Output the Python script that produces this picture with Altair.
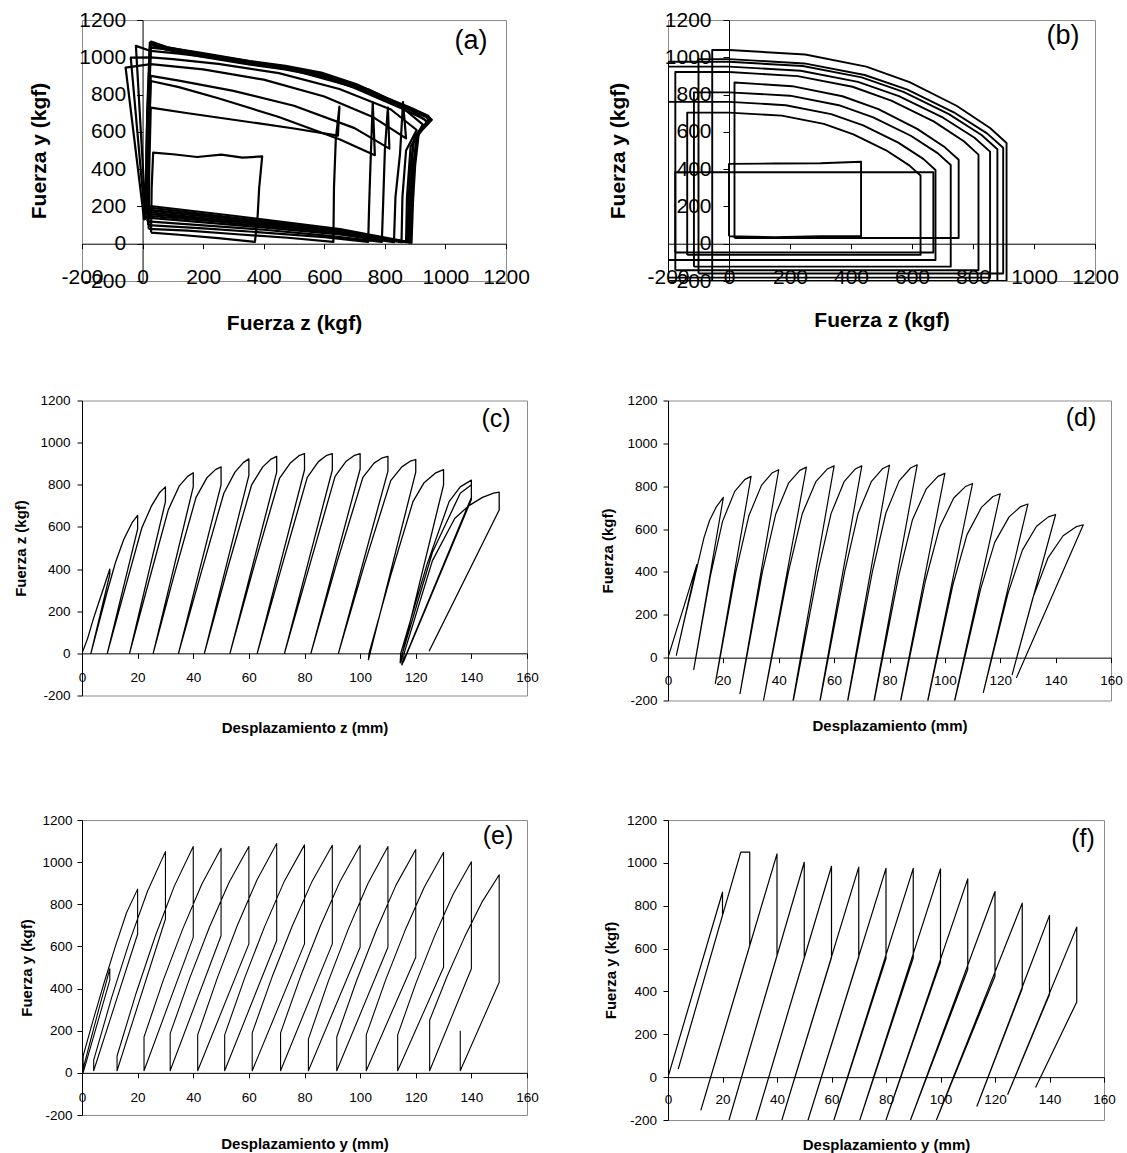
import altair as alt
import pandas as pd

FONT = "Liberation Sans"

FORCE_TICKS = [-200, 0, 200, 400, 600, 800, 1000, 1200]
DISP_TICKS = [0, 20, 40, 60, 80, 100, 120, 140, 160]

# ---------------- (a) Fuerza y vs Fuerza z : closed loops ----------------
A_FZ = [
    [28, 120, 250, 371, 380, 385, 395, 330, 260, 180, 100, 35, 30, 28],
    [20, 150, 300, 480, 630, 632, 638, 650, 645, 500, 300, 150, 27, 22, 20],
    [18, 200, 400, 600, 745, 748, 752, 760, 767, 650, 450, 250, 120, 27, 20, 18],
    [16, 200, 400, 600, 790, 795, 800, 810, 815, 700, 500, 300, 120, 27, 20, 16],
    [15, 250, 450, 650, 830, 835, 850, 860, 870, 760, 600, 400, 200, 27, -56, 5, 15],
    [14, 250, 450, 650, 855, 858, 870, 905, 820, 650, 450, 250, 100, 27, -39, 8, 14],
    [13, 250, 450, 650, 870, 873, 885, 925, 850, 700, 500, 300, 120, 27, -22, 10, 13],
    [12, 250, 450, 650, 880, 884, 893, 940, 880, 750, 550, 350, 150, 27, 15, 12],
    [12, 300, 652, 884, 890, 896, 908, 950, 943, 884, 802, 707, 590, 472, 354, 189, 83, 24, 15, 12],
    [15, 300, 652, 888, 893, 900, 912, 955, 945, 885, 800, 700, 590, 470, 350, 190, 80, 28, 18, 15],
    [10, 300, 652, 880, 885, 893, 905, 945, 938, 880, 800, 700, 590, 470, 350, 190, 80, 25, 14, 10],
    [12, 300, 652, 875, 878, 885, 898, 938, 930, 875, 795, 700, 590, 470, 350, 190, 80, 25, 14, 12],
]
A_FY = [
    [60, 48, 30, 10, 150, 300, 468, 462, 478, 465, 480, 489, 300, 60],
    [80, 70, 52, 32, 10, 300, 560, 735, 580, 618, 665, 700, 730, 400, 80],
    [100, 82, 60, 35, 10, 200, 400, 760, 475, 560, 680, 780, 840, 873, 500, 100],
    [120, 98, 75, 45, 10, 250, 500, 730, 510, 620, 740, 820, 875, 900, 500, 120],
    [140, 108, 80, 50, 8, 250, 480, 760, 565, 680, 790, 880, 935, 963, 945, 130, 140],
    [150, 118, 85, 55, 8, 250, 500, 610, 720, 830, 915, 965, 990, 1000, 998, 140, 150],
    [170, 130, 95, 62, 8, 250, 520, 640, 740, 840, 930, 985, 1020, 1034, 1061, 160, 170],
    [185, 142, 105, 70, 8, 250, 540, 655, 725, 825, 920, 980, 1030, 1052, 600, 185],
    [205, 150, 78, 7, 230, 409, 588, 668, 686, 730, 784, 855, 918, 954, 980, 1025, 1052, 1079, 700, 205],
    [195, 140, 70, 5, 230, 420, 590, 665, 680, 722, 778, 850, 912, 948, 975, 1020, 1055, 1084, 600, 195],
    [180, 130, 65, 8, 230, 400, 580, 660, 678, 720, 775, 845, 905, 942, 970, 1015, 1048, 1075, 600, 180],
    [160, 120, 55, 8, 230, 420, 575, 652, 668, 712, 768, 835, 898, 935, 962, 1005, 1040, 1068, 500, 160],
]

# ---------------- (b) Fuerza y vs Fuerza z : rounded rectangles ----------------
B_FZ = [
    [0, 150, 300, 433, 433, 300, 150, 0, 0],
    [-176, 670, 670, 0, -176, -176],
    [-137, 628, 628, 591, 515, 408, 311, 173, 0, -137, -137],
    [18, 753, 753, 708, 617, 490, 372, 207, 18, 18],
    [-200, 677, 677, 637, 555, 440, 335, 186, 0, -200, -200],
    [-115, 727, 727, 684, 596, 473, 360, 200, 0, -115, -115],
    [-176, 818, 818, 770, 671, 532, 405, 225, 0, -176, -176],
    [-200, 856, 856, 805, 702, 557, 423, 235, 0, -200, -200],
    [-200, 880, 880, 828, 721, 572, 435, 242, 0, -200, -200],
    [-100, 899, 899, 846, 737, 585, 445, 247, 0, -100, -100],
    [-55, 910, 910, 856, 746, 592, 450, 250, 0, -55, -55],
]
B_FY = [
    [40, 35, 40, 40, 440, 432, 430, 428, 40],
    [-47, -47, 383, 383, 383, -47],
    [-60, -60, 366, 420, 501, 587, 643, 687, 703, 703, -60],
    [31, 31, 450, 517, 616, 722, 791, 845, 865, 31],
    [-87, -87, 395, 455, 542, 635, 695, 743, 761, 761, -87],
    [-123, -123, 422, 486, 579, 678, 743, 794, 812, 812, -123],
    [-142, -142, 478, 550, 656, 768, 842, 899, 921, 921, -142],
    [-182, -182, 494, 568, 676, 792, 868, 928, 950, 950, -182],
    [-200, -200, 507, 583, 695, 814, 892, 953, 976, 976, -200],
    [-160, -160, 515, 592, 705, 826, 905, 967, 990, 990, -160],
    [-200, -200, 540, 621, 740, 867, 950, 1015, 1039, 1039, -200],
]

# ---------------- (c) Fuerza z vs Desplazamiento z ----------------
C_X = [0, 2, 4, 6, 8, 10, 10,
       3.2, 6, 9, 12, 15, 18, 20, 20,
       9.1, 15, 21.5, 25, 28, 30, 30,
       17.1, 24, 31, 35, 38, 40, 40,
       25.6, 33, 41, 45, 48, 50, 50,
       34.7, 43, 51, 55, 58, 60, 60,
       44, 52.5, 61, 65, 68, 70, 70,
       53.2, 62, 71, 75, 78, 80, 80,
       63, 72, 81, 85, 88, 90, 90,
       72.8, 82, 91, 95, 98, 100, 100,
       82.3, 91.5, 101, 105, 108, 110, 110,
       92.2, 101.5, 111, 115, 118, 120, 120,
       103, 103.2, 111, 119, 123, 127, 130, 130,
       114.4, 114.6, 124, 132, 136, 140, 140,
       115, 115.2, 126, 136, 140, 140,
       115.6, 115.8, 126, 134, 139, 144, 148, 150, 150,
       124.8]
C_Y = [0, 70, 160, 240, 320, 400, 375,
       0, 140, 290, 430, 540, 620, 655, 590,
       0, 285, 595, 700, 765, 790, 720,
       0, 340, 680, 795, 840, 857, 790,
       0, 365, 740, 835, 872, 885, 800,
       0, 390, 760, 860, 905, 923, 845,
       0, 410, 800, 885, 922, 935, 860,
       0, 420, 830, 905, 938, 948, 870,
       0, 420, 835, 910, 940, 948, 870,
       0, 425, 840, 912, 940, 948, 875,
       0, 425, 835, 903, 928, 935, 865,
       0, 420, 820, 885, 912, 920, 860,
       -30, 0, 370, 720, 810, 855, 872, 800,
       -45, 0, 420, 720, 790, 822, 740,
       -55, 0, 480, 760, 800, 730,
       -40, 0, 440, 640, 700, 740, 760, 765, 680,
       10]

# ---------------- (d) Fuerza vs Desplazamiento ----------------
D_X = [0, 3, 6, 8.5, 10.4, 3, 6, 9, 11, 13, 15, 17.5, 20,
       9.3, 15.3, 19.7, 24.1, 27.8, 30,
       17.1, 24.5, 29.2, 33.8, 37.7, 40,
       26, 34.1, 38.9, 43.6, 47.6, 50,
       34.5, 43.5, 48.5, 53.4, 57.5, 60,
       43.8, 54.1, 58.9, 63.6, 67.6, 70,
       53.5, 63.8, 68.7, 73.5, 77.6, 80,
       63.5, 73.8, 78.7, 83.5, 87.6, 90,
       73, 83.3, 88.3, 93.3, 97.5, 100,
       82.5, 93, 98.1, 103.2, 107.5, 110,
       92.2, 102.9, 108, 113.2, 117.4, 120,
       101.8, 112.9, 118, 123.2, 127.4, 130,
       113.9, 122.8, 128, 133.1, 137.4, 140,
       124.3, 131.8, 137.3, 142.7, 147.3, 150,
       125.8]
D_Y = [0, 125, 250, 355, 434, 11, 180, 340, 450, 560, 640, 705, 748,
       -55, 380, 636, 776, 832, 846,
       -120, 400, 662, 805, 863, 877,
       -168, 400, 669, 816, 874, 889,
       -200, 400, 672, 821, 880, 895,
       -300, 400, 672, 821, 880, 895,
       -300, 400, 674, 823, 883, 898,
       -300, 400, 675, 825, 885, 900,
       -300, 380, 644, 788, 846, 860,
       -300, 360, 609, 745, 799, 813,
       -300, 340, 574, 701, 752, 765,
       -300, 320, 538, 657, 705, 717,
       -162, 300, 502, 613, 657, 668,
       -79, 280, 467, 569, 610, 620,
       -95]

# ---------------- (e) Fuerza y vs Desplazamiento y ----------------
E_X = [0, 3, 6, 8.5, 10, 10, 0.4, 0.4, 4, 8, 12, 16, 20, 20,
       4.2, 4.2, 10.65, 17.1, 23.55, 30, 30,
       12.6, 12.6, 19.45, 26.3, 33.15, 40, 40,
       22.3, 22.3, 29.2, 36.15, 43.1, 50, 50,
       31.7, 31.7, 38.8, 45.85, 52.9, 60, 60,
       41.6, 41.6, 48.7, 55.8, 62.9, 70, 70,
       51.3, 51.3, 58.5, 65.65, 72.8, 80, 80,
       61.2, 61.2, 68.4, 75.6, 82.8, 90, 90,
       71.4, 71.4, 78.55, 85.7, 92.85, 100, 100,
       81.4, 81.4, 88.55, 95.7, 102.85, 110, 110,
       91.6, 91.6, 98.7, 105.8, 112.9, 120, 120,
       102.2, 102.2, 109.15, 116.1, 123.05, 130, 130,
       113.5, 113.5, 120.1, 126.75, 133.4, 140, 140,
       125, 125, 131.25, 137.5, 143.75, 150, 150,
       136, 136]
E_Y = [0, 150, 300, 420, 494, 440, 0, 80, 250, 430, 600, 760, 872, 659,
       10, 60, 357, 624, 862, 1050, 730,
       10, 80, 378, 647, 885, 1074, 643,
       10, 170, 439, 681, 896, 1066, 651,
       10, 186, 452, 692, 905, 1074, 612,
       10, 180, 452, 698, 915, 1088, 628,
       10, 180, 451, 694, 911, 1082, 612,
       10, 190, 457, 697, 911, 1080, 612,
       10, 190, 457, 697, 911, 1080, 596,
       10, 160, 434, 681, 900, 1074, 596,
       10, 170, 437, 677, 891, 1060, 549,
       10, 180, 440, 674, 881, 1046, 501,
       10, 180, 427, 649, 846, 1002, 494,
       10, 250, 457, 643, 809, 940, 430,
       10, 200]

# ---------------- (f) Fuerza y vs Desplazamiento y ----------------
F_X = [0, 20, 20, 3.8, 26.7, 30, 30, 12.1, 40, 40, 22.4, 50, 50, 32.3, 60, 60,
       41.8, 70, 70, 51.4, 80, 80, 60.9, 90, 90, 70.4, 100, 100, 80, 110, 110,
       89, 120, 120, 98.5, 130, 130, 113.4, 140, 140, 124.7, 150, 150, 134.9]
F_Y = [0, 863, 755, 40, 1050, 1050, 615, -153, 1042, 568, -200, 1003, 558, -200, 984, 558,
       -200, 980, 560, -200, 974, 553, -200, 974, 556, -200, 972, 536, -200, 925, 502,
       -200, 866, 471, -200, 812, 413, -135, 755, 386, -80, 700, 351, -48]


def path_frame(xs, ys):
    return pd.DataFrame({"x": xs, "y": ys, "i": list(range(len(xs))), "loop": [0] * len(xs)})


def loops_frame(loops_x, loops_y):
    rows = []
    for k, (lx, ly) in enumerate(zip(loops_x, loops_y)):
        for i, (x, y) in enumerate(zip(lx, ly)):
            rows.append({"x": x, "y": y, "i": i, "loop": k})
    return pd.DataFrame(rows)


PLAIN = "'' + datum.value"


def panel(df, *, w, h, xdom, xticks, xtitle, ytitle, label, yaxis_at_zero,
          tick_fs, title_fs, label_fs, sw, xlab_pad, ylab_pad, ytick,
          xtitle_y, ytitle_x, lab_dx, lab_dy):
    x_off = -w * 200 / 1400 if yaxis_at_zero else 0
    y_off = -h * 200 / 1400
    x_axis = alt.Axis(values=xticks, offset=y_off, tickSize=5, labelFontSize=tick_fs,
                      labelPadding=xlab_pad, labelFlush=False, labelOverlap=False,
                      labelExpr=PLAIN,
                      title=xtitle, titleFontSize=title_fs, titleFontWeight="bold",
                      titleX=w / 2, titleY=xtitle_y, titleBaseline="middle", grid=False)
    y_axis = alt.Axis(values=FORCE_TICKS, offset=x_off, tickSize=ytick, labelFontSize=tick_fs,
                      labelPadding=ylab_pad, labelFlush=False, labelOverlap=False,
                      labelExpr=PLAIN,
                      title=ytitle, titleFontSize=title_fs, titleFontWeight="bold",
                      titleX=ytitle_x, titleY=h / 2, titleBaseline="middle", grid=False)
    lines = alt.Chart(df).mark_line(color="black", strokeWidth=sw, clip=True,
                                    strokeJoin="round").encode(
        x=alt.X("x:Q", scale=alt.Scale(domain=xdom, nice=False, zero=False), axis=x_axis),
        y=alt.Y("y:Q", scale=alt.Scale(domain=[-200, 1200], nice=False, zero=False), axis=y_axis),
        order=alt.Order("i:Q"),
        detail="loop:N",
    )
    tag = alt.Chart(pd.DataFrame({"t": [label]})).mark_text(
        font=FONT, fontSize=label_fs, align="center", baseline="middle", color="black"
    ).encode(x=alt.value(w - lab_dx), y=alt.value(lab_dy), text="t:N")
    return alt.layer(lines, tag).properties(width=w, height=h)


pa = panel(loops_frame(A_FZ, A_FY), w=424, h=261, xdom=[-200, 1200], xticks=FORCE_TICKS,
           xtitle="Fuerza z (kgf)", ytitle="Fuerza y (kgf)", label="(a)", yaxis_at_zero=True,
           tick_fs=21, title_fs=21, label_fs=27, sw=2.2, xlab_pad=18, ylab_pad=11, ytick=6,
           xtitle_y=80, ytitle_x=-103, lab_dx=35, lab_dy=21)
pb = panel(loops_frame(B_FZ, B_FY), w=427, h=261, xdom=[-200, 1200], xticks=FORCE_TICKS,
           xtitle="Fuerza z (kgf)", ytitle="Fuerza y (kgf)", label="(b)", yaxis_at_zero=True,
           tick_fs=21, title_fs=21, label_fs=27, sw=1.9, xlab_pad=18, ylab_pad=12, ytick=6,
           xtitle_y=77, ytitle_x=-111, lab_dx=32, lab_dy=16)
pc = panel(path_frame(C_X, C_Y), w=445, h=295, xdom=[0, 160], xticks=DISP_TICKS,
           xtitle="Desplazamiento z (mm)", ytitle="Fuerza z (kgf)", label="(c)", yaxis_at_zero=False,
           tick_fs=13.5, title_fs=15, label_fs=25, sw=1.3, xlab_pad=12, ylab_pad=7, ytick=5,
           xtitle_y=74, ytitle_x=-62, lab_dx=31, lab_dy=18)
pd_ = panel(path_frame(D_X, D_Y), w=443, h=300, xdom=[0, 160], xticks=DISP_TICKS,
            xtitle="Desplazamiento (mm)", ytitle="Fuerza (kgf)", label="(d)", yaxis_at_zero=False,
            tick_fs=13.5, title_fs=15, label_fs=25, sw=1.2, xlab_pad=10.5, ylab_pad=6, ytick=5,
            xtitle_y=68, ytitle_x=-61, lab_dx=30, lab_dy=17)
pe = panel(path_frame(E_X, E_Y), w=445, h=295, xdom=[0, 160], xticks=DISP_TICKS,
           xtitle="Desplazamiento y (mm)", ytitle="Fuerza y (kgf)", label="(e)", yaxis_at_zero=False,
           tick_fs=13.5, title_fs=15, label_fs=25, sw=1.1, xlab_pad=12.5, ylab_pad=5, ytick=5,
           xtitle_y=71, ytitle_x=-56, lab_dx=29, lab_dy=16)
pf = panel(path_frame(F_X, F_Y), w=436, h=300, xdom=[0, 160], xticks=DISP_TICKS,
           xtitle="Desplazamiento y (mm)", ytitle="Fuerza y (kgf)", label="(f)", yaxis_at_zero=False,
           tick_fs=13.5, title_fs=15, label_fs=25, sw=1.2, xlab_pad=10.5, ylab_pad=6.5, ytick=5,
           xtitle_y=67, ytitle_x=-58, lab_dx=21, lab_dy=19)

chart = alt.concat(
    pa, pb, pc, pd_, pe, pf,
    columns=2,
    spacing={"row": 119.5, "column": 141},
    align="each",
    bounds="flush",
).properties(
    padding={"left": 12, "top": 8, "right": 0, "bottom": 0},
    background="white",
).configure_view(
    stroke="#8c8c8c", strokeWidth=1
).configure_axis(
    domainColor="black", tickColor="black", labelColor="black", titleColor="black",
    labelFont=FONT, titleFont=FONT, domainWidth=1, tickWidth=1,
)

chart.save("out.html", embed_options={"renderer": "svg", "actions": False})
